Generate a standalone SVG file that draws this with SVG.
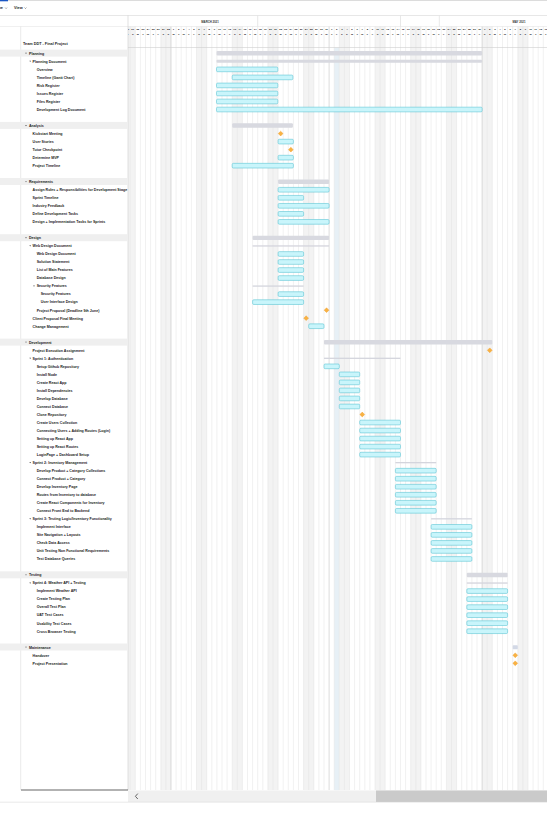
<svg xmlns="http://www.w3.org/2000/svg" xmlns:xlink="http://www.w3.org/1999/xlink" width="547" height="821" viewBox="0 0 547 821">
<style>
.l{font-family:"Liberation Sans",Arial,sans-serif;font-weight:bold;font-size:3.6px;fill:#1b1b1b}
.ttl{font-family:"Liberation Sans",Arial,sans-serif;font-weight:bold;font-size:3.8px;fill:#1b1b1b}
.hd{font-family:"Liberation Sans",Arial,sans-serif;font-weight:bold;font-size:2.5px;fill:#222;text-anchor:middle}
.mo{font-family:"Liberation Sans",Arial,sans-serif;font-weight:bold;font-size:2.8px;fill:#333;text-anchor:middle}
.bar{fill:#c9f5fb;stroke:#52c0d1;stroke-width:0.55}
.sum{fill:#d8d9e0}
.sub{fill:#d4d5dd}
.band{fill:#efefef}
.we{fill:#f3f3f3}
.tri{fill:#444}
</style>
<defs>
<clipPath id="chartClip"><rect x="128" y="15.5" width="419" height="775"/></clipPath>
<path id="dm" d="M0,-2.4 L2.4,0 L0,2.4 L-2.4,0 Z" fill="#f8b244" stroke="#f0971c" stroke-width="0.4"/>
<path id="tri" d="M-0.8,-0.6 L0.8,-0.6 L0,0.6 Z" class="tri"/>
</defs>
<rect x="0" y="0" width="547" height="821" fill="#ffffff"/>
<g id="toolbar">
<rect x="0" y="0" width="547" height="0.8" fill="#d4d4d4"/>
<rect x="0" y="0" width="8" height="1.3" fill="#1a56c4"/>
<text class="ttl" x="-1.5" y="9.3">ne</text>
<path d="M5.2,7.6 L6.1,8.5 L7,7.6" fill="none" stroke="#333" stroke-width="0.5"/>
<text class="ttl" x="14" y="9.3">View</text>
<path d="M24.6,7.6 L25.5,8.5 L26.4,7.6" fill="none" stroke="#333" stroke-width="0.5"/>
</g>
<g id="chart-bg" clip-path="url(#chartClip)">
<rect class="we" x="125.1" y="26.5" width="10.2" height="764"/>
<rect class="we" x="160.8" y="26.5" width="10.2" height="764"/>
<rect class="we" x="196.5" y="26.5" width="10.2" height="764"/>
<rect class="we" x="232.2" y="26.5" width="10.2" height="764"/>
<rect class="we" x="267.9" y="26.5" width="10.2" height="764"/>
<rect class="we" x="303.6" y="26.5" width="10.2" height="764"/>
<rect class="we" x="339.3" y="26.5" width="10.2" height="764"/>
<rect class="we" x="375.0" y="26.5" width="10.2" height="764"/>
<rect class="we" x="410.7" y="26.5" width="10.2" height="764"/>
<rect class="we" x="446.4" y="26.5" width="10.2" height="764"/>
<rect class="we" x="482.1" y="26.5" width="10.2" height="764"/>
<rect class="we" x="517.8" y="26.5" width="10.2" height="764"/>
<rect x="334.2" y="47.5" width="5.1" height="743" fill="#e7f0f6"/>
<path d="M130.2,26.5V790M135.3,26.5V790M140.4,26.5V790M145.5,26.5V790M150.6,26.5V790M155.7,26.5V790M160.8,26.5V790M165.9,26.5V790M176.1,26.5V790M181.2,26.5V790M186.3,26.5V790M191.4,26.5V790M196.5,26.5V790M201.6,26.5V790M206.7,26.5V790M211.8,26.5V790M216.9,26.5V790M222.0,26.5V790M227.1,26.5V790M232.2,26.5V790M237.3,26.5V790M242.4,26.5V790M247.5,26.5V790M252.6,26.5V790M257.7,26.5V790M262.8,26.5V790M267.9,26.5V790M273.0,26.5V790M278.1,26.5V790M283.2,26.5V790M288.3,26.5V790M293.4,26.5V790M298.5,26.5V790M303.6,26.5V790M308.7,26.5V790M313.8,26.5V790M318.9,26.5V790M324.0,26.5V790M334.2,26.5V790M339.3,26.5V790M344.4,26.5V790M349.5,26.5V790M354.6,26.5V790M359.7,26.5V790M364.8,26.5V790M369.9,26.5V790M375.0,26.5V790M380.1,26.5V790M385.2,26.5V790M390.3,26.5V790M395.4,26.5V790M400.5,26.5V790M405.6,26.5V790M410.7,26.5V790M415.8,26.5V790M420.9,26.5V790M426.0,26.5V790M431.1,26.5V790M436.2,26.5V790M441.3,26.5V790M446.4,26.5V790M451.5,26.5V790M456.6,26.5V790M461.7,26.5V790M466.8,26.5V790M471.9,26.5V790M477.0,26.5V790M487.2,26.5V790M492.3,26.5V790M497.4,26.5V790M502.5,26.5V790M507.6,26.5V790M512.7,26.5V790M517.8,26.5V790M522.9,26.5V790M528.0,26.5V790M533.1,26.5V790M538.2,26.5V790M543.3,26.5V790" stroke="#e3e3e3" stroke-width="0.5" fill="none"/>
<path d="M171,26.5V790M329.1,26.5V790M482.1,26.5V790" stroke="#c2c2c2" stroke-width="0.6" fill="none"/>
<path d="M257.7,15.5V26.5M400.5,15.5V26.5M439.3,15.5V26.5" stroke="#d0d0d0" stroke-width="0.5" fill="none"/>
<text class="mo" x="210" y="22.6">MARCH 2021</text>
<text class="mo" x="519" y="22.6">MAY 2021</text>
<g id="day-numbers">
<text class="hd" x="127.65" y="30.1">20</text><text class="hd" x="132.75" y="30.1">21</text><text class="hd" x="137.85" y="30.1">22</text><text class="hd" x="142.95" y="30.1">23</text><text class="hd" x="148.05" y="30.1">24</text><text class="hd" x="153.15" y="30.1">25</text><text class="hd" x="158.25" y="30.1">26</text><text class="hd" x="163.35" y="30.1">27</text><text class="hd" x="168.45" y="30.1">28</text>
<text class="hd" x="173.55" y="30.1">1</text><text class="hd" x="178.65" y="30.1">2</text><text class="hd" x="183.75" y="30.1">3</text><text class="hd" x="188.85" y="30.1">4</text><text class="hd" x="193.95" y="30.1">5</text><text class="hd" x="199.05" y="30.1">6</text><text class="hd" x="204.15" y="30.1">7</text><text class="hd" x="209.25" y="30.1">8</text><text class="hd" x="214.35" y="30.1">9</text><text class="hd" x="219.45" y="30.1">10</text><text class="hd" x="224.55" y="30.1">11</text><text class="hd" x="229.65" y="30.1">12</text><text class="hd" x="234.75" y="30.1">13</text><text class="hd" x="239.85" y="30.1">14</text><text class="hd" x="244.95" y="30.1">15</text><text class="hd" x="250.05" y="30.1">16</text><text class="hd" x="255.15" y="30.1">17</text><text class="hd" x="260.25" y="30.1">18</text><text class="hd" x="265.35" y="30.1">19</text><text class="hd" x="270.45" y="30.1">20</text><text class="hd" x="275.55" y="30.1">21</text><text class="hd" x="280.65" y="30.1">22</text><text class="hd" x="285.75" y="30.1">23</text><text class="hd" x="290.85" y="30.1">24</text><text class="hd" x="295.95" y="30.1">25</text><text class="hd" x="301.05" y="30.1">26</text><text class="hd" x="306.15" y="30.1">27</text><text class="hd" x="311.25" y="30.1">28</text><text class="hd" x="316.35" y="30.1">29</text><text class="hd" x="321.45" y="30.1">30</text><text class="hd" x="326.55" y="30.1">31</text>
<text class="hd" x="331.65" y="30.1">1</text><text class="hd" x="336.75" y="30.1">2</text><text class="hd" x="341.85" y="30.1">3</text><text class="hd" x="346.95" y="30.1">4</text><text class="hd" x="352.05" y="30.1">5</text><text class="hd" x="357.15" y="30.1">6</text><text class="hd" x="362.25" y="30.1">7</text><text class="hd" x="367.35" y="30.1">8</text><text class="hd" x="372.45" y="30.1">9</text><text class="hd" x="377.55" y="30.1">10</text><text class="hd" x="382.65" y="30.1">11</text><text class="hd" x="387.75" y="30.1">12</text><text class="hd" x="392.85" y="30.1">13</text><text class="hd" x="397.95" y="30.1">14</text><text class="hd" x="403.05" y="30.1">15</text><text class="hd" x="408.15" y="30.1">16</text><text class="hd" x="413.25" y="30.1">17</text><text class="hd" x="418.35" y="30.1">18</text><text class="hd" x="423.45" y="30.1">19</text><text class="hd" x="428.55" y="30.1">20</text><text class="hd" x="433.65" y="30.1">21</text><text class="hd" x="438.75" y="30.1">22</text><text class="hd" x="443.85" y="30.1">23</text><text class="hd" x="448.95" y="30.1">24</text><text class="hd" x="454.05" y="30.1">25</text><text class="hd" x="459.15" y="30.1">26</text><text class="hd" x="464.25" y="30.1">27</text><text class="hd" x="469.35" y="30.1">28</text><text class="hd" x="474.45" y="30.1">29</text><text class="hd" x="479.55" y="30.1">30</text>
<text class="hd" x="484.65" y="30.1">1</text><text class="hd" x="489.75" y="30.1">2</text><text class="hd" x="494.85" y="30.1">3</text><text class="hd" x="499.95" y="30.1">4</text><text class="hd" x="505.05" y="30.1">5</text><text class="hd" x="510.15" y="30.1">6</text><text class="hd" x="515.25" y="30.1">7</text><text class="hd" x="520.35" y="30.1">8</text><text class="hd" x="525.45" y="30.1">9</text><text class="hd" x="530.55" y="30.1">10</text><text class="hd" x="535.65" y="30.1">11</text><text class="hd" x="540.75" y="30.1">12</text><text class="hd" x="545.85" y="30.1">13</text>
</g>
<text class="hd" style="text-anchor:middle" y="34.9" x="127.65 132.75 137.85 142.95 148.05 153.15 158.25 163.35 168.45 173.55 178.65 183.75 188.85 193.95 199.05 204.15 209.25 214.35 219.45 224.55 229.65 234.75 239.85 244.95 250.05 255.15 260.25 265.35 270.45 275.55 280.65 285.75 290.85 295.95 301.05 306.15 311.25 316.35 321.45 326.55 331.65 336.75 341.85 346.95 352.05 357.15 362.25 367.35 372.45 377.55 382.65 387.75 392.85 397.95 403.05 408.15 413.25 418.35 423.45 428.55 433.65 438.75 443.85 448.95 454.05 459.15 464.25 469.35 474.45 479.55 484.65 489.75 494.85 499.95 505.05 510.15 515.25 520.35 525.45 530.55 535.65 540.75 545.85">SSMTWTFSSMTWTFSSMTWTFSSMTWTFSSMTWTFSSMTWTFSSMTWTFSSMTWTFSSMTWTFSSMTWTFSSMTWTFSSMTWT</text>
<path d="M128,47.5H547" stroke="#cfcfcf" stroke-width="0.6"/>
</g>
<g id="frame">
<path d="M0,15.5H547" stroke="#d6d6d6" stroke-width="0.6"/>
<path d="M0,26.5H547" stroke="#e0e0e0" stroke-width="0.5"/>
<path d="M128,15.5V790" stroke="#cccccc" stroke-width="0.6"/>
<path d="M20.7,26.5V790" stroke="#d4d4d4" stroke-width="0.5"/>
</g>
<g id="group-bands">
<rect class="band" x="0" y="49.6" width="128" height="7"/>
<rect class="band" x="0" y="121.9" width="128" height="7"/>
<rect class="band" x="0" y="178" width="128" height="7"/>
<rect class="band" x="0" y="234.2" width="128" height="7"/>
<rect class="band" x="0" y="338.6" width="128" height="7"/>
<rect class="band" x="0" y="571.3" width="128" height="7"/>
<rect class="band" x="0" y="643.5" width="128" height="7"/>
</g>
<g id="connectors"></g>
<g id="title"><text class="ttl" x="23" y="45">Team DDT - Final Project</text></g>
<g id="planning"><use href="#tri" x="26" y="53.33"/><text class="l" x="29" y="54.6">Planning</text><rect class="sum" x="216.5" y="51.1" width="265.6" height="4.4" rx="1"/></g>
<g id="planning-document"><use href="#tri" x="30.2" y="61.35"/><text class="l" x="32.6" y="62.65">Planning Document</text><rect class="sum" x="216.5" y="59.85" width="265.6" height="3" rx="0.8"/></g>
<g id="overview"><text class="l" x="36.7" y="70.7">Overview</text><rect class="bar" x="216.5" y="67.03" width="61.3" height="4.7" rx="1.2"/></g>
<g id="timeline-gantt"><text class="l" x="36.7" y="78.7">Timeline (Gantt Chart)</text><rect class="bar" x="232.2" y="75.05" width="60.7" height="4.7" rx="1.2"/></g>
<g id="risk-register"><text class="l" x="36.7" y="86.7">Risk Register</text><rect class="bar" x="216.5" y="83.08" width="61.3" height="4.7" rx="1.2"/></g>
<g id="issues-register"><text class="l" x="36.7" y="94.8">Issues Register</text><rect class="bar" x="216.5" y="91.11" width="61.3" height="4.7" rx="1.2"/></g>
<g id="files-register"><text class="l" x="36.7" y="102.8">Files Register</text><rect class="bar" x="216.5" y="99.13" width="61.3" height="4.7" rx="1.2"/></g>
<g id="dev-log"><text class="l" x="36.7" y="110.8">Development Log Document</text><rect class="bar" x="216.5" y="107.16" width="265.6" height="4.7" rx="1.2"/></g>
<g id="analysis"><use href="#tri" x="26" y="125.56"/><text class="l" x="29" y="126.9">Analysis</text><rect class="sum" x="232.2" y="123.36" width="60.7" height="4.4" rx="1"/></g>
<g id="kickstart"><text class="l" x="32.6" y="134.9">Kickstart Meeting</text><use href="#dm" x="280.65" y="133.59"/></g>
<g id="user-stories"><text class="l" x="32.6" y="142.9">User Stories</text><rect class="bar" x="278.1" y="139.26" width="15.3" height="4.7" rx="1.2"/></g>
<g id="tutor-checkpoint"><text class="l" x="32.6" y="150.9">Tutor Checkpoint</text><use href="#dm" x="290.85" y="149.64"/></g>
<g id="determine-mvp"><text class="l" x="32.6" y="159">Determine MVP</text><rect class="bar" x="278.1" y="155.31" width="15.3" height="4.7" rx="1.2"/></g>
<g id="project-timeline"><text class="l" x="32.6" y="167">Project Timeline</text><rect class="bar" x="232.2" y="163.34" width="61.2" height="4.7" rx="1.2"/></g>
<g id="requirements"><use href="#tri" x="26" y="181.74"/><text class="l" x="29" y="183">Requirements</text><rect class="sum" x="278.1" y="179.54" width="51" height="4.4" rx="1"/></g>
<g id="assign-roles"><text class="l" x="32.6" y="191.1">Assign Roles + Responsibilities for Development Stage</text><rect class="bar" x="278.1" y="187.42" width="51" height="4.7" rx="1.2"/></g>
<g id="sprint-timeline"><text class="l" x="32.6" y="199.1">Sprint Timeline</text><rect class="bar" x="278.1" y="195.44" width="25.5" height="4.7" rx="1.2"/></g>
<g id="industry-feedback"><text class="l" x="32.6" y="207.1">Industry Feedback</text><rect class="bar" x="278.1" y="203.47" width="51" height="4.7" rx="1.2"/></g>
<g id="define-dev-tasks"><text class="l" x="32.6" y="215.2">Define Development Tasks</text><rect class="bar" x="278.1" y="211.5" width="25.5" height="4.7" rx="1.2"/></g>
<g id="design-impl-tasks"><text class="l" x="32.6" y="223.2">Design + Implementation Tasks for Sprints</text><rect class="bar" x="278.1" y="219.52" width="51" height="4.7" rx="1.2"/></g>
<g id="design"><use href="#tri" x="26" y="237.92"/><text class="l" x="29" y="239.2">Design</text><rect class="sum" x="252.6" y="235.72" width="76.5" height="4.4" rx="1"/></g>
<g id="wdd-group"><use href="#tri" x="30.2" y="245.95"/><text class="l" x="32.6" y="247.3">Web Design Document</text><rect class="sub" x="252.6" y="245.3" width="76.5" height="1.3"/></g>
<g id="wdd"><text class="l" x="36.7" y="255.3">Web Design Document</text><rect class="bar" x="278.1" y="251.63" width="25.5" height="4.7" rx="1.2"/></g>
<g id="solution-statement"><text class="l" x="36.7" y="263.3">Solution Statement</text><rect class="bar" x="278.1" y="259.65" width="25.5" height="4.7" rx="1.2"/></g>
<g id="main-features"><text class="l" x="36.7" y="271.3">List of Main Features</text><rect class="bar" x="278.1" y="267.68" width="25.5" height="4.7" rx="1.2"/></g>
<g id="database-design"><text class="l" x="36.7" y="279.4">Database Design</text><rect class="bar" x="278.1" y="275.7" width="25.5" height="4.7" rx="1.2"/></g>
<g id="security-group"><use href="#tri" x="34" y="286.08"/><text class="l" x="36.7" y="287.4">Security Features</text><rect class="sub" x="252.6" y="285.43" width="51" height="1.3"/></g>
<g id="security-features"><text class="l" x="40.7" y="295.4">Security Features</text><rect class="bar" x="278.1" y="291.76" width="25.5" height="4.7" rx="1.2"/></g>
<g id="ui-design"><text class="l" x="40.7" y="303.4">User Interface Design</text><rect class="bar" x="252.6" y="299.78" width="51" height="4.7" rx="1.2"/></g>
<g id="project-proposal"><text class="l" x="36.7" y="311.5">Project Proposal (Deadline 9th June)</text><use href="#dm" x="326.55" y="310.16"/></g>
<g id="client-proposal"><text class="l" x="32.6" y="319.5">Client Proposal Final Meeting</text><use href="#dm" x="306.15" y="318.18"/></g>
<g id="change-management"><text class="l" x="32.6" y="327.5">Change Management</text><rect class="bar" x="308.7" y="323.86" width="15.3" height="4.7" rx="1.2"/></g>
<g id="development"><use href="#tri" x="26" y="342.26"/><text class="l" x="29" y="343.6">Development</text><rect class="sum" x="324" y="340.06" width="168.3" height="4.4" rx="1"/></g>
<g id="project-execution"><text class="l" x="32.6" y="351.6">Project Execution Assignment</text><use href="#dm" x="489.75" y="350.29"/></g>
<g id="sprint-1"><use href="#tri" x="30.2" y="358.31"/><text class="l" x="32.6" y="359.6">Sprint 1: Authentication</text><rect class="sub" x="324" y="357.66" width="76.5" height="1.3"/></g>
<g id="setup-github"><text class="l" x="36.7" y="367.6">Setup Github Repository</text><rect class="bar" x="324" y="363.99" width="15.3" height="4.7" rx="1.2"/></g>
<g id="install-node"><text class="l" x="36.7" y="375.7">Install Node</text><rect class="bar" x="339.3" y="372.02" width="20.4" height="4.7" rx="1.2"/></g>
<g id="create-react-app"><text class="l" x="36.7" y="383.7">Create React App</text><rect class="bar" x="339.3" y="380.04" width="20.4" height="4.7" rx="1.2"/></g>
<g id="install-deps"><text class="l" x="36.7" y="391.7">Install Dependencies</text><rect class="bar" x="339.3" y="388.07" width="20.4" height="4.7" rx="1.2"/></g>
<g id="develop-database"><text class="l" x="36.7" y="399.7">Develop Database</text><rect class="bar" x="339.3" y="396.09" width="20.4" height="4.7" rx="1.2"/></g>
<g id="connect-database"><text class="l" x="36.7" y="407.8">Connect Database</text><rect class="bar" x="339.3" y="404.12" width="20.4" height="4.7" rx="1.2"/></g>
<g id="clone-repo"><text class="l" x="36.7" y="415.8">Clone Repository</text><use href="#dm" x="362.25" y="414.5"/></g>
<g id="users-collection"><text class="l" x="36.7" y="423.8">Create Users Collection</text><rect class="bar" x="359.7" y="420.17" width="40.8" height="4.7" rx="1.2"/></g>
<g id="connecting-users"><text class="l" x="36.7" y="431.9">Connecting Users + Adding Routes (Login)</text><rect class="bar" x="359.7" y="428.2" width="40.8" height="4.7" rx="1.2"/></g>
<g id="setup-react-app"><text class="l" x="36.7" y="439.9">Setting up React App</text><rect class="bar" x="359.7" y="436.22" width="40.8" height="4.7" rx="1.2"/></g>
<g id="setup-react-routes"><text class="l" x="36.7" y="447.9">Setting up React Routes</text><rect class="bar" x="359.7" y="444.25" width="40.8" height="4.7" rx="1.2"/></g>
<g id="loginpage"><text class="l" x="36.7" y="455.9">LoginPage + Dashboard Setup</text><rect class="bar" x="359.7" y="452.28" width="40.8" height="4.7" rx="1.2"/></g>
<g id="sprint-2"><use href="#tri" x="30.2" y="462.65"/><text class="l" x="32.6" y="463.9">Sprint 2: Inventory Management</text><rect class="sub" x="395.4" y="462" width="40.8" height="1.3"/></g>
<g id="product-collections"><text class="l" x="36.7" y="472">Develop Product + Category Collections</text><rect class="bar" x="395.4" y="468.33" width="40.8" height="4.7" rx="1.2"/></g>
<g id="connect-product"><text class="l" x="36.7" y="480">Connect Product + Category</text><rect class="bar" x="395.4" y="476.35" width="40.8" height="4.7" rx="1.2"/></g>
<g id="inventory-page"><text class="l" x="36.7" y="488">Develop Inventory Page</text><rect class="bar" x="395.4" y="484.38" width="40.8" height="4.7" rx="1.2"/></g>
<g id="inventory-routes"><text class="l" x="36.7" y="496.1">Routes from Inventory to database</text><rect class="bar" x="395.4" y="492.41" width="40.8" height="4.7" rx="1.2"/></g>
<g id="inventory-components"><text class="l" x="36.7" y="504.1">Create React Components for Inventory</text><rect class="bar" x="395.4" y="500.43" width="40.8" height="4.7" rx="1.2"/></g>
<g id="front-to-back"><text class="l" x="36.7" y="512.1">Connect Front End to Backend</text><rect class="bar" x="395.4" y="508.46" width="40.8" height="4.7" rx="1.2"/></g>
<g id="sprint-3"><use href="#tri" x="30.2" y="518.83"/><text class="l" x="32.6" y="520.1">Sprint 3: Testing Logic/Inventory Functionality</text><rect class="sub" x="431.1" y="518.18" width="40.8" height="1.3"/></g>
<g id="implement-interface"><text class="l" x="36.7" y="528.2">Implement Interface</text><rect class="bar" x="431.1" y="524.51" width="40.8" height="4.7" rx="1.2"/></g>
<g id="site-navigation"><text class="l" x="36.7" y="536.2">Site Navigation + Layouts</text><rect class="bar" x="431.1" y="532.54" width="40.8" height="4.7" rx="1.2"/></g>
<g id="check-data-access"><text class="l" x="36.7" y="544.2">Check Data Access</text><rect class="bar" x="431.1" y="540.56" width="40.8" height="4.7" rx="1.2"/></g>
<g id="unit-testing"><text class="l" x="36.7" y="552.2">Unit Testing Non Functional Requirements</text><rect class="bar" x="431.1" y="548.59" width="40.8" height="4.7" rx="1.2"/></g>
<g id="test-db-queries"><text class="l" x="36.7" y="560.3">Test Database Queries</text><rect class="bar" x="431.1" y="556.61" width="40.8" height="4.7" rx="1.2"/></g>
<g id="testing"><use href="#tri" x="26" y="575.02"/><text class="l" x="29" y="576.3">Testing</text><rect class="sum" x="466.8" y="572.82" width="40.8" height="4.4" rx="1"/></g>
<g id="sprint-4"><use href="#tri" x="30.2" y="583.04"/><text class="l" x="32.6" y="584.3">Sprint 4: Weather API + Testing</text><rect class="sub" x="466.8" y="582.4" width="40.8" height="1.3"/></g>
<g id="weather-api"><text class="l" x="36.7" y="592.4">Implement Weather API</text><rect class="bar" x="466.8" y="588.72" width="40.8" height="4.7" rx="1.2"/></g>
<g id="testing-plan"><text class="l" x="36.7" y="600.4">Create Testing Plan</text><rect class="bar" x="466.8" y="596.74" width="40.8" height="4.7" rx="1.2"/></g>
<g id="overall-test-plan"><text class="l" x="36.7" y="608.4">Overall Test Plan</text><rect class="bar" x="466.8" y="604.77" width="40.8" height="4.7" rx="1.2"/></g>
<g id="uat"><text class="l" x="36.7" y="616.4">UAT Test Cases</text><rect class="bar" x="466.8" y="612.8" width="40.8" height="4.7" rx="1.2"/></g>
<g id="usability"><text class="l" x="36.7" y="624.5">Usability Test Cases</text><rect class="bar" x="466.8" y="620.82" width="40.8" height="4.7" rx="1.2"/></g>
<g id="cross-browser"><text class="l" x="36.7" y="632.5">Cross Browser Testing</text><rect class="bar" x="466.8" y="628.85" width="40.8" height="4.7" rx="1.2"/></g>
<g id="maintenance"><use href="#tri" x="26" y="647.25"/><text class="l" x="29" y="648.6">Maintenance</text><rect x="512.7" y="645.25" width="5.1" height="4" rx="0.8" fill="#d3d9e6"/></g>
<g id="handover"><text class="l" x="32.6" y="656.6">Handover</text><use href="#dm" x="515.25" y="655.28"/></g>
<g id="project-presentation"><text class="l" x="32.6" y="664.6">Project Presentation</text><use href="#dm" x="515.25" y="663.3"/></g>
<g id="scrollbar">
<path d="M21,790H128" stroke="#222" stroke-width="0.7"/>
<rect x="128" y="790.5" width="419" height="11.5" fill="#f0f0f0"/>
<rect x="376" y="790.5" width="171" height="11.5" fill="#cacaca"/>
<path d="M137.8,793.6 L135.4,796.3 L137.8,799" fill="none" stroke="#555" stroke-width="0.9"/>
<path d="M0,802.2H547" stroke="#dcdcdc" stroke-width="0.6"/>
</g>
</svg>
